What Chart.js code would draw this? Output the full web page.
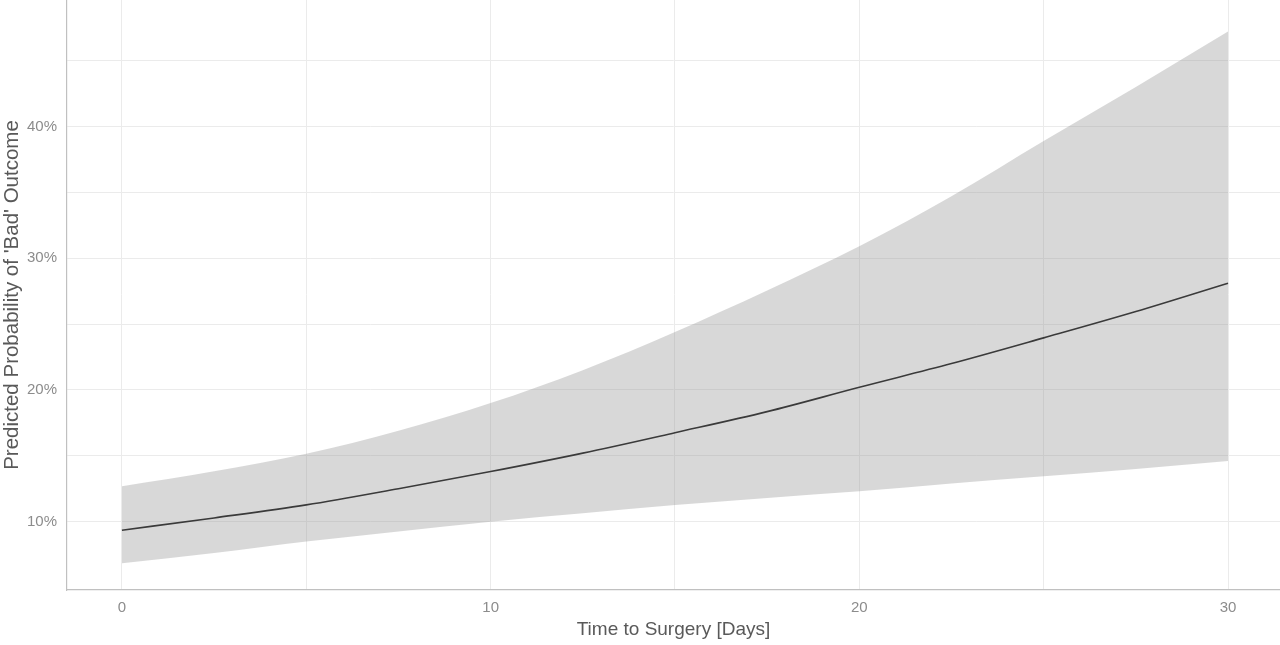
<!DOCTYPE html>
<html>
<head>
<meta charset="utf-8">
<title>Predicted Probability of 'Bad' Outcome</title>
<script src="https://cdn.jsdelivr.net/npm/chart.js@4.4.1/dist/chart.umd.min.js"></script>
<style>
    html, body { margin: 0; padding: 0; background: #fff; }
    #box { width: 1280px; height: 645px; position: relative; }
</style>
</head>
<body>
<div id="box"><canvas id="myChart"></canvas></div>
<script>
/** 横坐标: 天数 */
var days = [0, 2.5, 5, 7.5, 10, 12.5, 15, 17.5, 20, 22.5, 25, 27.5, 30]
/** 预测概率 (%) */
var predicted = [9.35, 10.28, 11.27, 12.5, 13.8, 15.2, 16.75, 18.35, 20.2, 22.0, 23.95, 25.95, 28.1]
/** 置信区间 上/下 (%) */
var upper = [12.68, 13.82, 15.15, 16.9, 19.0, 21.5, 24.4, 27.55, 30.9, 34.7, 38.9, 43.0, 47.2]
var lower = [6.84, 7.62, 8.5, 9.26, 10.0, 10.64, 11.27, 11.8, 12.3, 12.9, 13.45, 14.0, 14.6]
/** 刻度 */
var xTicks = [0, 5, 10, 15, 20, 25, 30]
var yTicks = [10, 15, 20, 25, 30, 35, 40, 45]

function toPoints(values) {
    return days.map(function (d, i) {
        return { x: d, y: values[i] }
    })
}

var gridColor = '#ebebeb'
var tickColor = '#8c8c8c'
var titleColor = '#595959'

var ctx = document.getElementById('myChart').getContext('2d')
var myChart = new Chart(ctx, {
    type: 'line',
    data: {
        datasets: [
            {
                label: 'lower',
                data: toPoints(lower),
                borderWidth: 0,
                pointRadius: 0,
                fill: false,
                cubicInterpolationMode: 'monotone'
            },
            {
                label: 'upper',
                data: toPoints(upper),
                borderWidth: 0,
                pointRadius: 0,
                backgroundColor: 'rgba(153,153,153,0.38)',
                fill: '-1',
                cubicInterpolationMode: 'monotone'
            },
            {
                label: 'predicted',
                data: toPoints(predicted),
                borderColor: '#000',
                borderWidth: 1.6,
                pointRadius: 0,
                fill: false,
                cubicInterpolationMode: 'monotone'
            }
        ]
    },
    options: {
        responsive: true,
        maintainAspectRatio: false,
        animation: false,
        layout: { padding: 0 },
        plugins: {
            legend: { display: false },
            tooltip: { enabled: false }
        },
        scales: {
            x: {
                type: 'linear',
                min: -1.49,
                max: 31.41,
                afterBuildTicks: function (scale) {
                    scale.ticks = xTicks.map(function (v) { return { value: v } })
                },
                afterFit: function (scale) {
                    scale.height = 55
                    scale.paddingLeft = 0
                    scale.paddingRight = 0
                },
                grid: { color: gridColor, lineWidth: 1, drawTicks: false },
                border: { display: true, color: '#c0c0c0', width: 1.2 },
                ticks: {
                    color: tickColor,
                    padding: 9,
                    font: { family: 'Liberation Sans', size: 15 },
                    callback: function (v) { return v % 10 === 0 ? String(v) : '' }
                },
                title: {
                    display: true,
                    text: 'Time to Surgery [Days]',
                    color: titleColor,
                    padding: { top: 0, bottom: 4 },
                    font: { family: 'Liberation Sans', size: 19 }
                }
            },
            y: {
                type: 'linear',
                min: 4.81,
                max: 49.6,
                afterBuildTicks: function (scale) {
                    scale.ticks = yTicks.map(function (v) { return { value: v } })
                },
                afterFit: function (scale) {
                    scale.width = 67
                    scale.paddingTop = 0
                    scale.paddingBottom = 0
                },
                grid: { color: gridColor, lineWidth: 1, drawTicks: false },
                border: { display: true, color: '#c0c0c0', width: 1.2 },
                ticks: {
                    color: tickColor,
                    padding: 10,
                    font: { family: 'Liberation Sans', size: 15 },
                    callback: function (v) { return v % 10 === 0 ? v + '%' : '' }
                },
                title: {
                    display: true,
                    text: "Predicted Probability of 'Bad' Outcome",
                    color: titleColor,
                    padding: { top: 0, bottom: 0 },
                    font: { family: 'Liberation Sans', size: 20.5 }
                }
            }
        }
    }
})
</script>
</body>
</html>
